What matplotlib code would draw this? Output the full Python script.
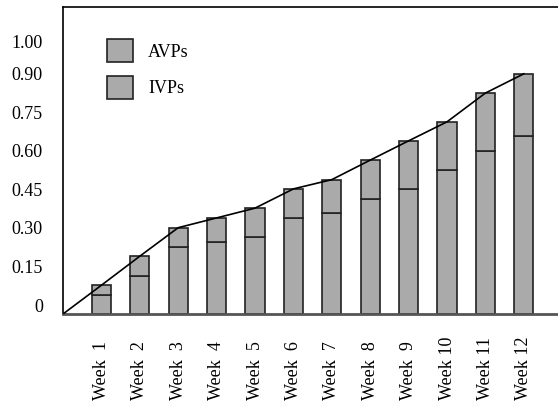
import matplotlib
matplotlib.use("Agg")
import matplotlib.pyplot as plt
from matplotlib.patches import Patch

# ---- data (in the chart's axis units) ----
weeks = ["Week  1", "Week  2", "Week  3", "Week  4", "Week  5", "Week  6",
         "Week  7", "Week  8", "Week  9", "Week 10", "Week 11", "Week 12"]
ivps_top = [0.040, 0.114, 0.226, 0.245, 0.265, 0.339, 0.358, 0.413, 0.452, 0.526, 0.601, 0.657]
totals = [0.077, 0.190, 0.301, 0.339, 0.377, 0.452, 0.488, 0.564, 0.639, 0.713, 0.825, 0.900]
ytick_vals = [0, 0.15, 0.30, 0.45, 0.60, 0.75, 0.90, 1.025]
ytick_labels = ["0", "0.15", "0.30", "0.45", "0.60", "0.75", "0.90", "1.00"]
legend_labels = ["AVPs", "IVPs"]

YMIN, YMAX = -0.035, 1.16
GRAY = "#aaaaaa"
EDGE = "#222222"

plt.rcParams["font.family"] = ["Liberation Serif", "DejaVu Serif"]
fig = plt.figure(figsize=(5.58, 4.04), dpi=100)
W, H = 558, 404
ax = fig.add_axes([63 / W, 1 - 314 / H, (13 * 38.4) / W, 307 / H])

x = list(range(1, len(weeks) + 1))
low_h = [v - YMIN for v in ivps_top]
top_h = [t - v for t, v in zip(totals, ivps_top)]
ax.bar(x, low_h, bottom=YMIN, width=0.5, color=GRAY, edgecolor=EDGE, linewidth=1.2, zorder=2)
ax.bar(x, top_h, bottom=ivps_top, width=0.5, color=GRAY, edgecolor=EDGE, linewidth=1.2, zorder=2)

ax.plot([0] + x, [YMIN] + totals, color="black", linewidth=1.2, zorder=3)

ax.set_xlim(0, 13)
ax.set_ylim(YMIN, YMAX)

ax.set_yticks(ytick_vals)
ax.set_yticklabels(ytick_labels, fontsize=13)
ax.tick_params(axis="y", length=0, pad=14.4)

ax.set_xticks(x)
ax.set_xticklabels(weeks, rotation=90, fontsize=13)
ax.tick_params(axis="x", length=0, pad=62)
for lab in ax.get_xticklabels():
    lab.set_verticalalignment("bottom")

ax.spines["right"].set_visible(False)
ax.spines["top"].set_linewidth(1.2)
ax.spines["left"].set_linewidth(1.2)
ax.spines["bottom"].set_linewidth(2)
ax.spines["bottom"].set_color("#555555")

handles = [Patch(facecolor=GRAY, edgecolor=EDGE, linewidth=1.2) for _ in legend_labels]
fig.legend(handles, legend_labels, loc="upper left",
           bbox_to_anchor=(107 / W, 1 - 39 / H), bbox_transform=fig.transFigure,
           frameon=False, fontsize=13, borderpad=0, borderaxespad=0,
           handlelength=1.44, handleheight=1.6, labelspacing=0.75, handletextpad=0.83)

fig.savefig("out.png", dpi=100)
